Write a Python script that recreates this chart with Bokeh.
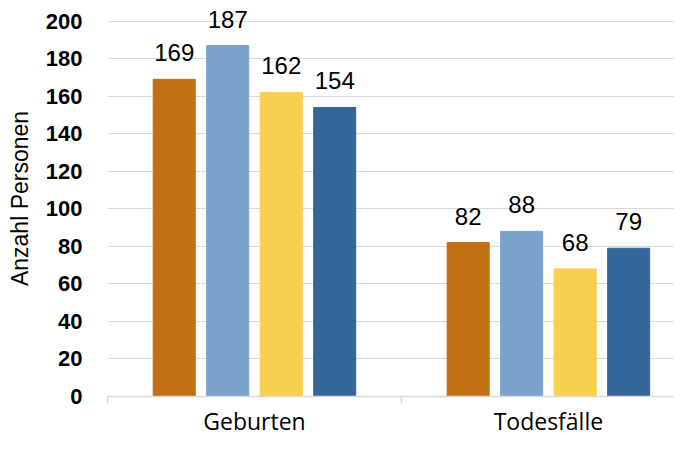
from bokeh.plotting import figure
from bokeh.models import ColumnDataSource, FixedTicker, Range1d, LabelSet
from bokeh.core.properties import value
from bokeh.embed import file_html
from bokeh.resources import INLINE

categories = ["Geburten", "Todesfälle"]
series_names = ["Reihe 1", "Reihe 2", "Reihe 3", "Reihe 4"]
series_values = [
    [169, 82],
    [187, 88],
    [162, 68],
    [154, 79],
]
colors = ["#BF7114", "#7BA2CD", "#F9CF4F", "#346699"]
y_ticks = [0, 20, 40, 60, 80, 100, 120, 140, 160, 180, 200]

p = figure(width=674, height=439, output_backend="svg", toolbar_location=None,
           x_range=Range1d(0, 1.929), y_range=Range1d(0, 211),
           min_border_left=107, min_border_right=0, min_border_top=0, min_border_bottom=38)
p.outline_line_color = None
p.xgrid.grid_line_color = None
p.ygrid.grid_line_color = "#D9D9D9"
p.ygrid.grid_line_width = 1

step = 0.182
width = 0.143
for k, (name, vals, col) in enumerate(zip(series_names, series_values, colors)):
    xs = [i + 0.5 + (k - 1.5) * step for i in range(len(categories))]
    src = ColumnDataSource(dict(x=xs, top=vals, lab=[str(v) for v in vals]))
    p.vbar(x="x", top="top", width=width, bottom=0, color=col, source=src, name=name)
    p.add_layout(LabelSet(x="x", y="top", text="lab", source=src, text_align="center",
                          text_baseline="alphabetic", y_offset=18,
                          text_font=value("Liberation Sans"),
                          text_font_size=value("24px"), text_color="#000000"))

p.yaxis.ticker = FixedTicker(ticks=y_ticks)
p.yaxis.axis_line_color = None
p.yaxis.major_tick_line_color = None
p.yaxis.major_tick_out = 0
p.yaxis.major_tick_in = 0
p.yaxis.minor_tick_line_color = None
p.yaxis.major_label_standoff = 25
p.yaxis.major_label_text_font = "Liberation Sans"
p.yaxis.major_label_text_font_style = "bold"
p.yaxis.major_label_text_font_size = "22px"
p.yaxis.major_label_text_color = "#000000"
p.yaxis.axis_label = "Anzahl Personen"
p.yaxis.axis_label_text_font = "Liberation Sans"
p.yaxis.axis_label_text_font_style = "normal"
p.yaxis.axis_label_text_font_size = "23px"
p.yaxis.axis_label_standoff = 10
p.yaxis.axis_label_text_color = "#000000"

p.xaxis.ticker = FixedTicker(ticks=[i + 0.5 for i in range(len(categories))],
                             minor_ticks=list(range(len(categories) + 1)))
p.xaxis.major_label_overrides = {i + 0.5: c for i, c in enumerate(categories)}
p.xaxis.major_label_text_font = "Open Sans"
p.xaxis.major_label_text_font_size = "23px"
p.xaxis.major_label_text_color = "#000000"
p.xaxis.major_label_standoff = 1
p.xaxis.axis_line_color = "#D9D9D9"
p.xaxis.axis_line_width = 1.5
p.xaxis.major_tick_line_color = None
p.xaxis.major_tick_out = 0
p.xaxis.major_tick_in = 0
p.xaxis.minor_tick_line_color = "#D9D9D9"
p.xaxis.minor_tick_line_width = 1.5
p.xaxis.minor_tick_in = 0
p.xaxis.minor_tick_out = 7

open("out.html", "w").write(file_html(p, INLINE))
